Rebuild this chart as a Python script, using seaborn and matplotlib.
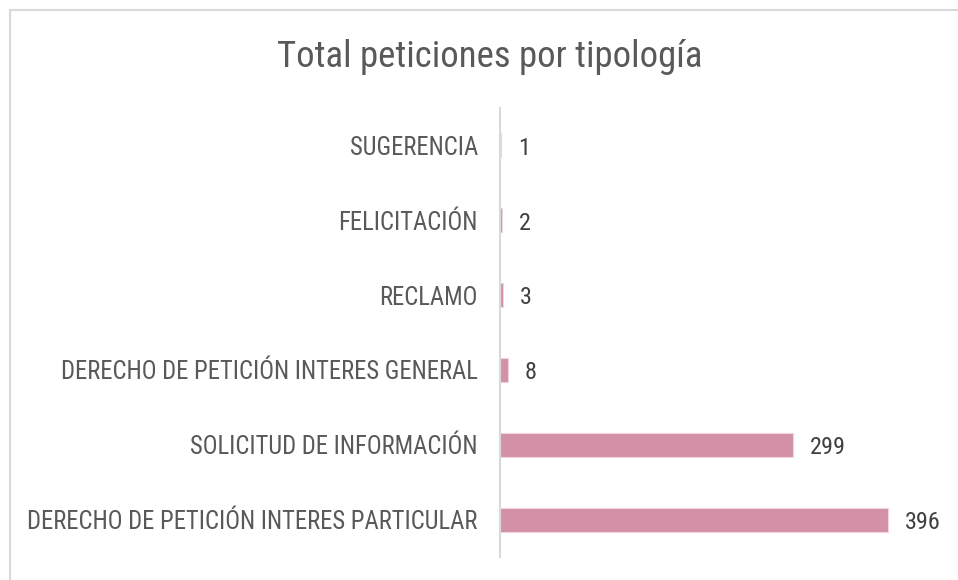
import pandas as pd
import matplotlib
matplotlib.use("Agg")
import matplotlib.pyplot as plt
import seaborn as sns
from matplotlib.patches import Rectangle

categorias = ["SUGERENCIA", "FELICITACIÓN", "RECLAMO",
              "DERECHO DE PETICIÓN INTERES GENERAL",
              "SOLICITUD DE INFORMACIÓN",
              "DERECHO DE PETICIÓN INTERES PARTICULAR"]
totales = [1, 2, 3, 8, 299, 396]

df = pd.DataFrame({"tipologia": categorias, "total": totales})

sns.set_style("white")
plt.rcParams['font.family'] = ['Roboto Condensed', 'Archivo Narrow', 'DejaVu Sans']

fig = plt.figure(figsize=(9.58, 5.8), dpi=100)
ax = fig.add_axes([500/958, 1 - 557/580, 1 - 500/958, (557 - 108)/580])

sns.barplot(data=df, x="total", y="tipologia", orient="h", color="#D291A6",
            saturation=1, width=0.32, edgecolor="#F2D3DE", linewidth=0.8, ax=ax)

# etiquetas de valor, un poco por debajo del centro de la barra
for c in ax.containers:
    for t in ax.bar_label(c, padding=12, fontsize=17.5, color="#404040"):
        t.xyann = (t.xyann[0], -2)

ax.set_xlim(0, 467)
ax.set_ylim(5.5, -0.5)
ax.set_xlabel("")
ax.set_ylabel("")
ax.set_xticks([])
ax.tick_params(axis="y", length=0, pad=16, labelsize=17.7, labelcolor="#595959")
for s in ["top", "right", "bottom"]:
    ax.spines[s].set_visible(False)
ax.spines["left"].set_color("#D9D9D9")
ax.spines["left"].set_linewidth(1.5)

fig.text(490/958, 1 - 57/580, "Total peticiones por tipología", ha="center",
         va="center", fontsize=26.5, color="#595959")

# marco del grafico
fig.patches.append(Rectangle((10/958, -0.1), 1.2, 1.1 - 10/580, transform=fig.transFigure,
                             fill=False, edgecolor="#D9D9D9", linewidth=1.5))

plt.savefig("out.png", dpi=100)
